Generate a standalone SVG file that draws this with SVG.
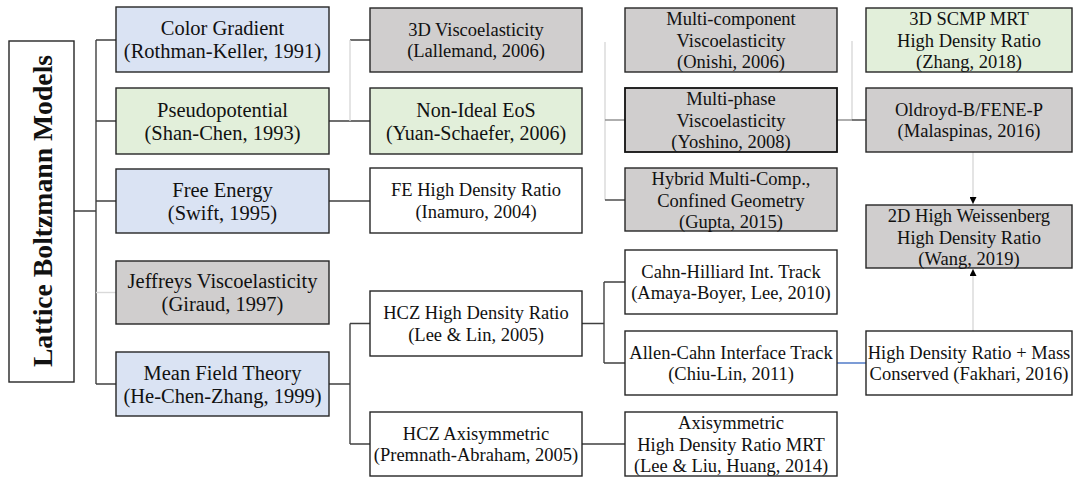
<svg xmlns="http://www.w3.org/2000/svg" width="1073" height="477" viewBox="0 0 1073 477">
<style>
text{font-family:"Liberation Serif","Times New Roman",serif;fill:#111;text-anchor:middle}
.box{stroke:#262626;stroke-width:1.4}
.blue{fill:#dae3f3}.green{fill:#e2efda}.gray{fill:#d0cece}.white{fill:#fff}
.f1{font-size:20.5px}.f2{font-size:18.5px}.f3{font-size:20px}
.c{fill:none;stroke:#404040;stroke-width:1.4}
.l{fill:none;stroke:#d9d9d9;stroke-width:1.4}
.m{fill:none;stroke:#8c8c8c;stroke-width:1.4}
.b{fill:none;stroke:#4472c4;stroke-width:1.4}
</style>
<defs>
<marker id="ah" viewBox="0 0 8 8" refX="8" refY="4" markerWidth="7" markerHeight="7" markerUnits="userSpaceOnUse" orient="auto">
<path d="M0,0L8,4L0,8z" fill="#000"/>
</marker>
</defs>
<rect width="1073" height="477" fill="#fff"/>
<g id="connectors">
<path class="c" d="M74,211H96M96,40V384M96,40H116M96,121H116M96,201H116M96,384H116"/>
<path class="l" d="M96,292.5H116"/>
<path class="c" d="M329,121H370M350,40H370M329,201H370"/>
<path class="l" d="M350,40V121"/>
<path class="c" d="M329,384H350M350,323.5V444M350,323.5H370M350,444H370"/>
<path class="l" d="M605,42V200"/>
<path class="m" d="M605,120H625"/>
<path class="c" d="M605,200H625"/>
<path class="c" d="M582,323.5H604M604,282V363M604,282H625M604,363H625M582,444H625"/>
<path class="l" d="M852,41V120"/>
<path class="m" d="M837,120H852"/>
<path class="c" d="M852,120H866"/>
<path class="b" d="M837,363H866"/>
<path class="l" d="M973,152V204" marker-end="url(#ah)"/>
<path class="l" d="M973,331V269" marker-end="url(#ah)"/>
</g>
<g id="title">
<rect class="box white" x="9" y="41" width="65" height="341"/>
<text transform="translate(52,211) rotate(-90)" style="font-size:27.7px;font-weight:bold">Lattice Boltzmann Models</text>
</g>
<g id="color-gradient">
<rect class="box blue" x="116" y="7" width="213" height="65"/>
<text class="f1" x="222.5" y="35">Color Gradient</text>
<text class="f1" x="222.5" y="58">(Rothman-Keller, 1991)</text>
</g>
<g id="pseudopotential">
<rect class="box green" x="116" y="88" width="213" height="66"/>
<text class="f1" x="222.5" y="116.5">Pseudopotential</text>
<text class="f1" x="222.5" y="139.5">(Shan-Chen, 1993)</text>
</g>
<g id="free-energy">
<rect class="box blue" x="116" y="169" width="213" height="64"/>
<text class="f1" x="222.5" y="196.5">Free Energy</text>
<text class="f1" x="222.5" y="219.5">(Swift, 1995)</text>
</g>
<g id="jeffreys">
<rect class="box gray" x="116" y="261" width="213" height="63"/>
<text class="f1" x="222.5" y="288">Jeffreys Viscoelasticity</text>
<text class="f1" x="222.5" y="311">(Giraud, 1997)</text>
</g>
<g id="mean-field">
<rect class="box blue" x="116" y="352" width="213" height="64"/>
<text class="f1" x="222.5" y="379.5">Mean Field Theory</text>
<text class="f1" x="222.5" y="402.5">(He-Chen-Zhang, 1999)</text>
</g>
<g id="visco3d">
<rect class="box gray" x="370" y="8" width="212" height="64"/>
<text class="f2" x="476" y="35.5">3D Viscoelasticity</text>
<text class="f2" x="476" y="57">(Lallemand, 2006)</text>
</g>
<g id="non-ideal">
<rect class="box green" x="370" y="88" width="212" height="66"/>
<text class="f3" x="476" y="116.5">Non-Ideal EoS</text>
<text class="f3" x="476" y="139.5">(Yuan-Schaefer, 2006)</text>
</g>
<g id="fe-hdr">
<rect class="box white" x="370" y="168" width="212" height="65"/>
<text class="f2" x="476" y="196">FE High Density Ratio</text>
<text class="f2" x="476" y="217.5">(Inamuro, 2004)</text>
</g>
<g id="hcz-hdr">
<rect class="box white" x="370" y="291" width="212" height="65"/>
<text class="f2" x="476" y="319">HCZ High Density Ratio</text>
<text class="f2" x="476" y="340.5">(Lee &amp; Lin, 2005)</text>
</g>
<g id="hcz-axi">
<rect class="box white" x="370" y="412" width="212" height="64"/>
<text class="f2" x="476" y="439.5">HCZ Axisymmetric</text>
<text class="f2" x="476" y="461">(Premnath-Abraham, 2005)</text>
</g>
<g id="multi-component">
<rect class="box gray" x="625" y="8" width="212" height="64"/>
<text class="f2" x="731" y="25">Multi-component</text>
<text class="f2" x="731" y="46.5">Viscoelasticity</text>
<text class="f2" x="731" y="68">(Onishi, 2006)</text>
</g>
<g id="multi-phase">
<rect class="box gray" x="625" y="88" width="212" height="64" style="stroke:#111;stroke-width:1.8"/>
<text class="f2" x="731" y="105">Multi-phase</text>
<text class="f2" x="731" y="126.5">Viscoelasticity</text>
<text class="f2" x="731" y="148">(Yoshino, 2008)</text>
</g>
<g id="hybrid">
<rect class="box gray" x="625" y="168" width="212" height="63"/>
<text class="f2" x="731" y="185">Hybrid Multi-Comp.,</text>
<text class="f2" x="731" y="206.5">Confined Geometry</text>
<text class="f2" x="731" y="228">(Gupta, 2015)</text>
</g>
<g id="cahn-hilliard">
<rect class="box white" x="625" y="250" width="212" height="64"/>
<text class="f2" x="731" y="277.5">Cahn-Hilliard Int. Track</text>
<text class="f2" x="731" y="299">(Amaya-Boyer, Lee, 2010)</text>
</g>
<g id="allen-cahn">
<rect class="box white" x="625" y="331" width="212" height="64"/>
<text class="f2" x="731" y="358.5">Allen-Cahn Interface Track</text>
<text class="f2" x="731" y="380">(Chiu-Lin, 2011)</text>
</g>
<g id="axisymmetric-mrt">
<rect class="box white" x="625" y="412" width="212" height="64"/>
<text class="f2" x="731" y="429">Axisymmetric</text>
<text class="f2" x="731" y="450.5">High Density Ratio MRT</text>
<text class="f2" x="731" y="472">(Lee &amp; Liu, Huang, 2014)</text>
</g>
<g id="scmp-3d">
<rect class="box green" x="866" y="8" width="206" height="64"/>
<text class="f2" x="969" y="25">3D SCMP MRT</text>
<text class="f2" x="969" y="46.5">High Density Ratio</text>
<text class="f2" x="969" y="68">(Zhang, 2018)</text>
</g>
<g id="oldroyd">
<rect class="box gray" x="866" y="88" width="206" height="64"/>
<text class="f2" x="969" y="115.5">Oldroyd-B/FENE-P</text>
<text class="f2" x="969" y="137">(Malaspinas, 2016)</text>
</g>
<g id="weissenberg">
<rect class="box gray" x="866" y="205" width="206" height="63"/>
<text class="f2" x="969" y="222">2D High Weissenberg</text>
<text class="f2" x="969" y="243.5">High Density Ratio</text>
<text class="f2" x="969" y="265">(Wang, 2019)</text>
</g>
<g id="fakhari">
<rect class="box white" x="866" y="331" width="206" height="64"/>
<text class="f2" x="969" y="358.5">High Density Ratio + Mass</text>
<text class="f2" x="969" y="380">Conserved (Fakhari, 2016)</text>
</g>
</svg>
